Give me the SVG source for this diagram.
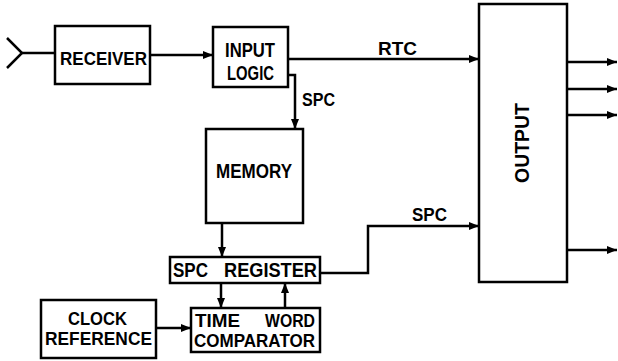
<svg xmlns="http://www.w3.org/2000/svg" width="618" height="361" viewBox="0 0 618 361">
<style>
.box{fill:#fff;stroke:#000;stroke-width:2.5}
.ln{fill:none;stroke:#000;stroke-width:2.5}
.t{font-family:"Liberation Sans",Arial,sans-serif;font-weight:bold;font-size:18px;fill:#000}
.b{font-size:19.5px}
</style>
<defs>
<marker id="ah" viewBox="0 0 10 10" refX="10" refY="5" markerWidth="5" markerHeight="4" orient="auto" markerUnits="strokeWidth">
<path d="M0,1 L10,5 L0,9 z" fill="#000"/>
</marker>
</defs>
<rect width="618" height="361" fill="#fff"/>
<g id="connectors">
<polyline class="ln" points="7,38 22,53 7,68"/>
<line class="ln" x1="22" y1="53" x2="55" y2="53"/>
<line class="ln" x1="150" y1="55" x2="213" y2="55" marker-end="url(#ah)"/>
<line class="ln" x1="288" y1="59" x2="479" y2="59" marker-end="url(#ah)"/>
<polyline class="ln" points="288,75 295,75 295,129" marker-end="url(#ah)"/>
<line class="ln" x1="222" y1="223" x2="222" y2="257" marker-end="url(#ah)"/>
<line class="ln" x1="221" y1="283" x2="221" y2="308" marker-end="url(#ah)"/>
<line class="ln" x1="285" y1="308" x2="285" y2="283" marker-end="url(#ah)"/>
<line class="ln" x1="156" y1="328" x2="191" y2="328" marker-end="url(#ah)"/>
<polyline class="ln" points="320,273 368,273 368,226 479,226" marker-end="url(#ah)"/>
<line class="ln" x1="567" y1="62" x2="617" y2="62" marker-end="url(#ah)"/>
<line class="ln" x1="567" y1="89" x2="617" y2="89" marker-end="url(#ah)"/>
<line class="ln" x1="567" y1="115" x2="617" y2="115" marker-end="url(#ah)"/>
<line class="ln" x1="567" y1="250" x2="617" y2="250" marker-end="url(#ah)"/>
<text class="t" x="378" y="55" textLength="39" lengthAdjust="spacingAndGlyphs">RTC</text>
<text class="t" x="302" y="106" textLength="33" lengthAdjust="spacingAndGlyphs">SPC</text>
<text class="t" x="412" y="221" textLength="35" lengthAdjust="spacingAndGlyphs">SPC</text>
</g>
<g id="receiver">
<rect class="box" x="55" y="26" width="95" height="58"/>
<text class="t" x="60" y="65" textLength="87" lengthAdjust="spacingAndGlyphs">RECEIVER</text>
</g>
<g id="input-logic">
<rect class="box" x="213" y="27" width="75" height="60"/>
<text class="t b" x="225" y="57" textLength="50" lengthAdjust="spacingAndGlyphs">INPUT</text>
<text class="t b" x="227" y="80" textLength="47" lengthAdjust="spacingAndGlyphs">LOGIC</text>
</g>
<g id="memory">
<rect class="box" x="206" y="129" width="97" height="94"/>
<text class="t b" x="216" y="178" textLength="76" lengthAdjust="spacingAndGlyphs">MEMORY</text>
</g>
<g id="spc-register">
<rect class="box" x="170" y="257" width="150" height="26"/>
<text class="t b" x="173" y="277" textLength="35" lengthAdjust="spacingAndGlyphs">SPC</text>
<text class="t b" x="224" y="277" textLength="93" lengthAdjust="spacingAndGlyphs">REGISTER</text>
</g>
<g id="time-word-comparator">
<rect class="box" x="191" y="308" width="129" height="44"/>
<text class="t" x="195" y="327" textLength="45" lengthAdjust="spacingAndGlyphs">TIME</text>
<text class="t" x="265" y="327" textLength="50" lengthAdjust="spacingAndGlyphs">WORD</text>
<text class="t" x="194" y="347" textLength="121" lengthAdjust="spacingAndGlyphs">COMPARATOR</text>
</g>
<g id="clock-reference">
<rect class="box" x="41" y="300" width="115" height="58"/>
<text class="t" x="68" y="325" textLength="59" lengthAdjust="spacingAndGlyphs">CLOCK</text>
<text class="t" x="45" y="345" textLength="107" lengthAdjust="spacingAndGlyphs">REFERENCE</text>
</g>
<g id="output">
<rect class="box" x="479" y="4" width="88" height="278"/>
<text class="t" transform="translate(529,183) rotate(-90)" x="0" y="0" textLength="80" lengthAdjust="spacingAndGlyphs" style="font-size:20px">OUTPUT</text>
</g>
</svg>
